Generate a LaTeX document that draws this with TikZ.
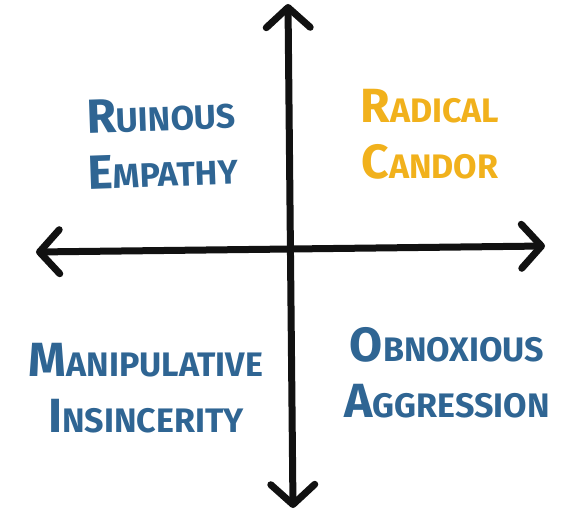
\documentclass[tikz,border=0pt]{standalone}
\usepackage{fontspec}
\usepackage{xcolor}
\usepackage{tikz}
\usetikzlibrary{arrows.meta}
\setmainfont{Fira Sans}
\definecolor{ink}{HTML}{111111}
\definecolor{quadblue}{HTML}{2F6593}
\definecolor{quadgold}{HTML}{F1B11C}
\newcommand{\capword}[2]{{\fontsize{48}{56}\selectfont #1}#2}

\begin{document}
\begin{tikzpicture}[x=1pt, y=-1pt,
    axis/.style={draw=ink, line width=7pt, line cap=round,
      {Straight Barb[length=20pt,width=44pt,round]}-{Straight Barb[length=20pt,width=44pt,round]}},
    quad/.style={align=center, inner sep=0pt, text=quadblue, font=\bfseries\fontsize{34}{56}\selectfont},
    best/.style={quad, text=quadgold}
  ]
    \useasboundingbox (0,0) rectangle (572,517);
    \coordinate (top) at (288,4);
    \coordinate (bottom) at (293,508);
    \coordinate (left) at (36,252);
    \coordinate (right) at (545,246);
    \draw[axis] (bottom) -- (top);
    \draw[axis] (left) -- (right);
    \node[quad, rotate=2] (ruinous) at (162,142) {\capword{R}{UINOUS}\\\capword{E}{MPATHY}};
    \node[best] (candor) at (430,134) {\capword{R}{ADICAL}\\\capword{C}{ANDOR}};
    \node[quad] (manip) at (146,388) {\capword{M}{ANIPULATIVE}\\\capword{I}{NSINCERITY}};
    \node[quad] (obnox) at (447,373) {\capword{O}{BNOXIOUS}\\\capword{A}{GGRESSION}};
  \end{tikzpicture}
\end{document}
